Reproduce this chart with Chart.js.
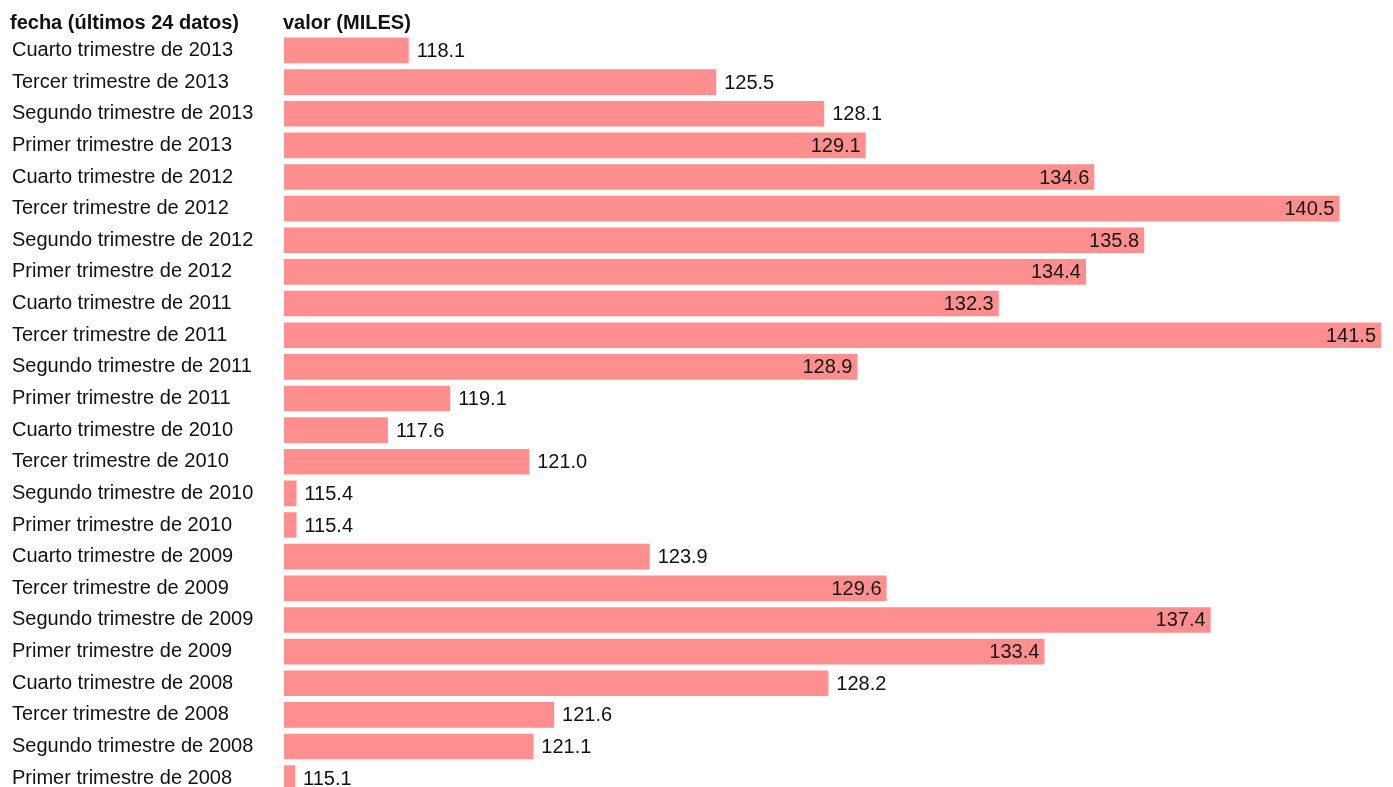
<!DOCTYPE html>
<html>
<head>
<meta charset="utf-8">
<script src="https://cdn.jsdelivr.net/npm/chart.js@4"></script>
<style>
  html, body { margin: 0; padding: 0; background: #fff; overflow: hidden; }
</style>
</head>
<body>
<canvas id="barChart" width="1393" height="806"></canvas>
<script>
// periodos, de arriba abajo
const categories = [
  "Cuarto trimestre de 2013", "Tercer trimestre de 2013", "Segundo trimestre de 2013", "Primer trimestre de 2013",
  "Cuarto trimestre de 2012", "Tercer trimestre de 2012", "Segundo trimestre de 2012", "Primer trimestre de 2012",
  "Cuarto trimestre de 2011", "Tercer trimestre de 2011", "Segundo trimestre de 2011", "Primer trimestre de 2011",
  "Cuarto trimestre de 2010", "Tercer trimestre de 2010", "Segundo trimestre de 2010", "Primer trimestre de 2010",
  "Cuarto trimestre de 2009", "Tercer trimestre de 2009", "Segundo trimestre de 2009", "Primer trimestre de 2009",
  "Cuarto trimestre de 2008", "Tercer trimestre de 2008", "Segundo trimestre de 2008", "Primer trimestre de 2008"
];
// valor (MILES)
const values = [
  118.1, 125.5, 128.1, 129.1,
  134.6, 140.5, 135.8, 134.4,
  132.3, 141.5, 128.9, 119.1,
  117.6, 121.0, 115.4, 115.4,
  123.9, 129.6, 137.4, 133.4,
  128.2, 121.6, 121.1, 115.1
];
const headers = ["fecha (últimos 24 datos)", "valor (MILES)"];

const xMin = Math.min(...values);
const xMax = Math.max(...values);
const FONT = "'Liberation Sans', Arial, sans-serif";

// column headers + value labels
const labelPlugin = {
  id: "labels",
  afterDatasetsDraw(chart) {
    const ctx = chart.ctx;
    const area = chart.chartArea;
    const meta = chart.getDatasetMeta(0);
    ctx.save();
    ctx.font = "20px " + FONT;
    ctx.fillStyle = "#111";
    ctx.textBaseline = "middle";
    meta.data.forEach((bar, i) => {
      const w = bar.x - area.left;
      const txt = values[i].toFixed(1);
      if (w > (area.right - area.left) / 2) {
        ctx.textAlign = "right";
        ctx.fillText(txt, bar.x - 5, bar.y + 1);
      } else {
        ctx.textAlign = "left";
        ctx.fillText(txt, bar.x + 8, bar.y + 1);
      }
    });
    // headers
    ctx.font = "bold 20px " + FONT;
    ctx.textBaseline = "alphabetic";
    ctx.textAlign = "left";
    ctx.fillText(headers[0], 10, 29);
    ctx.fillText(headers[1], area.left - 1, 29);
    ctx.restore();
  }
};

new Chart(document.getElementById("barChart"), {
  type: "bar",
  data: {
    labels: categories,
    datasets: [{
      data: values,
      base: xMin,
      backgroundColor: "rgb(255, 142, 142)",
      borderWidth: 0,
      minBarLength: 11,
      categoryPercentage: 0.9,
      barPercentage: 0.9
    }]
  },
  options: {
    indexAxis: "y",
    responsive: false,
    animation: false,
    layout: { padding: { left: 12, right: 12, top: 34.6, bottom: 0 } },
    plugins: {
      legend: { display: false },
      tooltip: { enabled: false }
    },
    scales: {
      x: {
        display: false,
        min: xMin,
        max: xMax
      },
      y: {
        grid: { display: false },
        border: { display: false },
        ticks: {
          crossAlign: "far",
          color: "#111",
          padding: 0,
          font: { size: 20, family: FONT }
        },
        afterFit(scale) {
          scale.width = 272; // chart area starts at x=284
        }
      }
    }
  },
  plugins: [labelPlugin]
});
</script>
</body>
</html>
